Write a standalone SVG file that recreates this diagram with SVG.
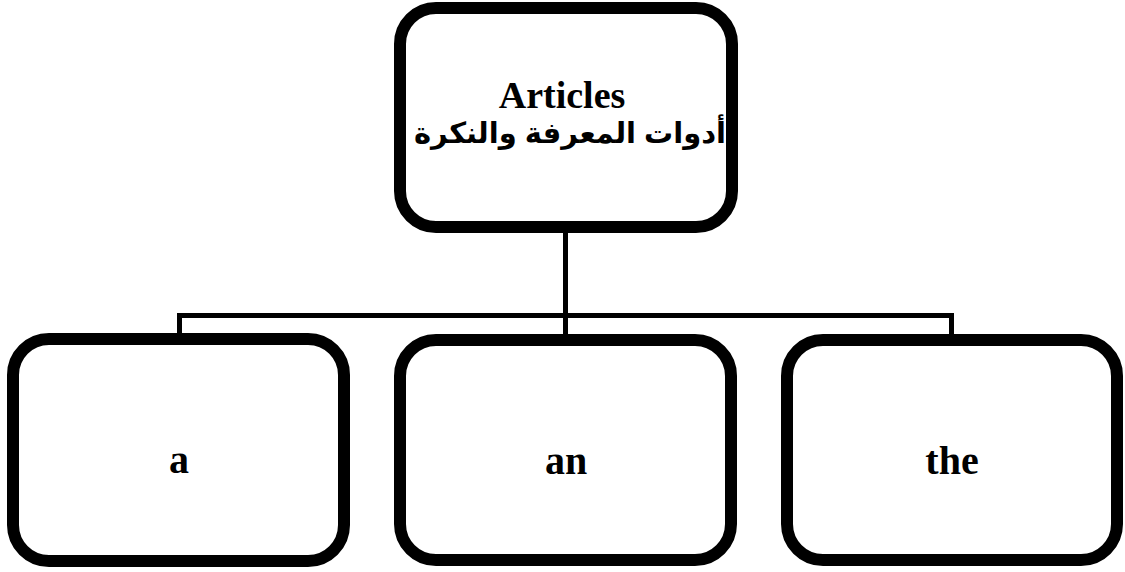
<svg xmlns="http://www.w3.org/2000/svg" width="1125" height="572" viewBox="0 0 1125 572">
<style>
.box{fill:#fff;stroke:#000;stroke-width:12}
.conn{fill:none;stroke:#000;stroke-width:5}
.lbl{font-family:"Liberation Serif","Times New Roman",serif;font-weight:bold;fill:#000;text-anchor:middle}
.ar{font-family:"Liberation Sans","DejaVu Sans",sans-serif;font-weight:bold;fill:#000;text-anchor:middle}
</style>
<rect width="1125" height="572" fill="#fff"/>
<g id="connectors">
<path class="conn" d="M565.5 227 V315.5"/>
<path class="conn" d="M179.5 340 V315.5 H951.5 V340"/>
<path class="conn" d="M565.5 315.5 V340"/>
</g>
<g id="node-articles">
<rect class="box" x="400" y="8" width="332" height="219" rx="36" ry="36"/>
<text class="lbl" x="562" y="108" font-size="38">Articles</text>
<text class="ar" x="570" y="143" font-size="29" direction="rtl">أدوات المعرفة والنكرة</text>
</g>
<g id="node-a">
<rect class="box" x="13" y="339" width="331" height="222" rx="36" ry="36"/>
<text class="lbl" x="179" y="473" font-size="40">a</text>
</g>
<g id="node-an">
<rect class="box" x="400" y="340" width="331" height="220" rx="36" ry="36"/>
<text class="lbl" x="566" y="474" font-size="40">an</text>
</g>
<g id="node-the">
<rect class="box" x="787" y="340" width="330" height="220" rx="36" ry="36"/>
<text class="lbl" x="952" y="474" font-size="40">the</text>
</g>
</svg>
